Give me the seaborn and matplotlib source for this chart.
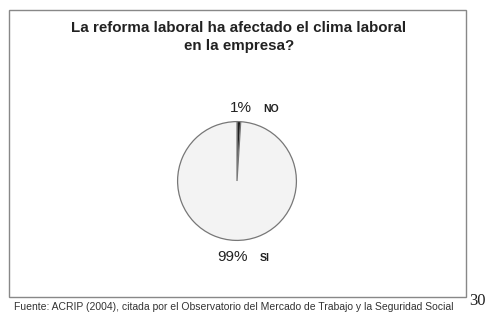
import matplotlib
matplotlib.use("Agg")
import matplotlib.pyplot as plt
import seaborn as sns
from matplotlib.patches import Rectangle

# data
labels = ["NO", "SI"]
values = [1, 99]
pct_labels = ["1%", "99%"]
colors = ["#1e1e1e", "#f3f3f3"]

title = "La reforma laboral ha afectado el clima laboral\nen la empresa?"
source = "Fuente: ACRIP (2004), citada por el Observatorio del Mercado de Trabajo y la Seguridad Social"

sns.set_style("white")
plt.rcParams['font.family'] = ['Liberation Sans', 'DejaVu Sans']

W, H = 491, 316
fig = plt.figure(figsize=(W / 100, H / 100), dpi=100)

# outer frame of the chart
fig.patches.append(Rectangle((9 / W, 1 - 297 / H), 457 / W, 287 / H,
                             transform=fig.transFigure, fill=False,
                             edgecolor="#888888", linewidth=1))

fig.text(239 / W, 1 - 37 / H, title, ha="center", va="center",
         fontsize=10.9, fontweight="bold", color="#222222", linespacing=1.3)

# pie
cx, cy, r = 237, 181, 60
ax = fig.add_axes([(cx - r) / W, 1 - (cy + r) / H, 2 * r / W, 2 * r / H])
ax.pie(values, colors=colors, startangle=90, counterclock=False,
       wedgeprops=dict(edgecolor="#777777", linewidth=0.9))
ax.set_xlim(-1.01, 1.01)
ax.set_ylim(-1.01, 1.01)
ax.set_aspect("auto")
ax.axis("off")

# slice labels
fig.text(252 / W, 1 - 108 / H, pct_labels[0], ha="right", va="center",
         fontsize=11, color="#222222")
fig.text(263 / W, 1 - 109 / H, labels[0], ha="left", va="center",
         fontsize=7.6, fontweight="bold", color="#222222")
fig.text(248 / W, 1 - 257 / H, pct_labels[1], ha="right", va="center",
         fontsize=11, color="#222222")
fig.text(260 / W, 1 - 258 / H, labels[1], ha="left", va="center",
         fontsize=7.6, fontweight="bold", color="#222222")

# source and page number
fig.text(234 / W, 1 - 307 / H, source, ha="center", va="center",
         fontsize=7.5, color="#333333")
fig.text(469 / W, 1 - 301 / H, "30", ha="left", va="center",
         fontsize=12, color="#222222", family=["Liberation Serif", "DejaVu Serif"])

fig.savefig("out.png", dpi=100)
